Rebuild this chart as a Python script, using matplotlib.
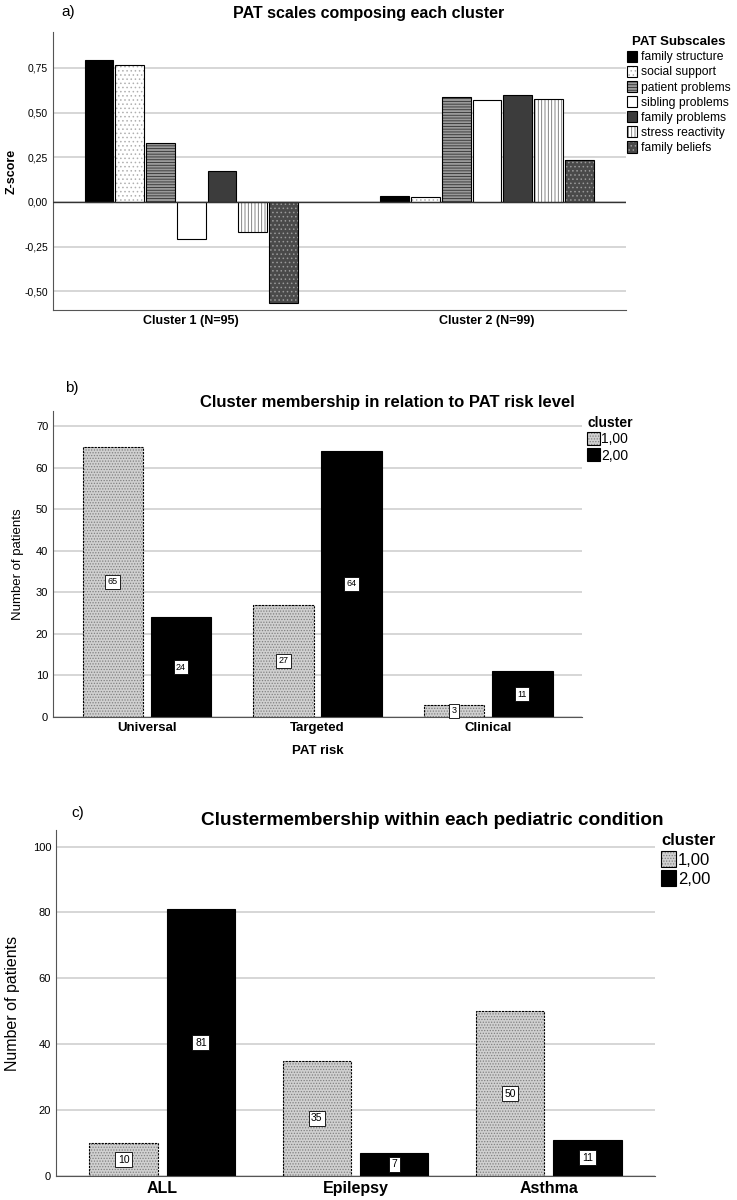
import matplotlib
matplotlib.use("Agg")
import matplotlib.pyplot as plt
import numpy as np
from matplotlib.patches import Patch

plt.rcParams['font.family'] = ['Liberation Sans', 'DejaVu Sans']
plt.rcParams['hatch.linewidth'] = 0.6

# panel a data
clusters_a = ["Cluster 1 (N=95)", "Cluster 2 (N=99)"]
subscales = ["family structure", "social support", "patient problems",
             "sibling problems", "family problems", "stress reactivity",
             "family beliefs"]
zscores_c1 = [0.795, 0.765, 0.33, -0.21, 0.175, -0.17, -0.565]
zscores_c2 = [0.035, 0.03, 0.59, 0.57, 0.60, 0.575, 0.235]
yticks_a = [-0.50, -0.25, 0.0, 0.25, 0.50, 0.75]
yticklabels_a = ["-0,50", "-0,25", "0,00", "0,25", "0,50", "0,75"]

# panel b data
risk_levels = ["Universal", "Targeted", "Clinical"]
risk_cluster1 = [65, 27, 3]
risk_cluster2 = [24, 64, 11]

# panel c data
conditions = ["ALL", "Epilepsy", "Asthma"]
cond_cluster1 = [10, 35, 50]
cond_cluster2 = [81, 7, 11]
cluster_names = ["1,00", "2,00"]

# (face, hatch, hatch colour) per subscale
sub_styles = [
    ("black", None, None),
    ("white", "....", "#b0b0b0"),
    ("#9a9a9a", "------", "#303030"),
    ("white", None, None),
    ("#3c3c3c", None, None),
    ("white", "|||||", "#707070"),
    ("#4a4a4a", "....", "#9a9a9a"),
]
clus_styles = [("#d0d0d0", "......", "#808080"), ("black", None, None)]


def draw_bar(ax, x, h, w, style, outline_ls="-"):
    face, hatch, hcol = style
    if hatch:
        ax.bar(x, h, w, color=face, hatch=hatch, edgecolor=hcol, linewidth=0, zorder=2)
        ax.bar(x, h, w, fill=False, edgecolor="black", linewidth=0.8,
               linestyle=outline_ls, zorder=3)
    else:
        ax.bar(x, h, w, color=face, edgecolor="black", linewidth=0.8, zorder=2)


def legend_handle(style):
    face, hatch, hcol = style
    if hatch:
        return (Patch(facecolor=face, hatch=hatch, edgecolor=hcol, linewidth=0),
                Patch(fill=False, edgecolor="black", linewidth=0.8))
    return Patch(facecolor=face, edgecolor="black", linewidth=0.8)


def style_axes(ax):
    ax.spines['top'].set_visible(False)
    ax.spines['right'].set_visible(False)
    ax.spines['left'].set_color('#555555')
    ax.spines['bottom'].set_color('#555555')
    ax.yaxis.grid(True, color='#cfcfcf', linewidth=1.2, zorder=0)
    ax.set_axisbelow(True)
    ax.tick_params(length=0)


def value_box(ax, x, h, size):
    ax.text(x, h / 2, str(h), ha='center', va='center', fontsize=size, zorder=5,
            bbox=dict(boxstyle='square,pad=0.25', fc='white', ec='black', lw=0.6))


fig = plt.figure(figsize=(7.37, 12), dpi=100)

# ---- panel a ----
ax = fig.add_axes([0.072, 0.7417, 0.7775, 0.2317])
style_axes(ax)
step, bw = 0.104, 0.097
for g, vals in enumerate([zscores_c1, zscores_c2]):
    for i, v in enumerate(vals):
        draw_bar(ax, g + (i - 3) * step, v, bw, sub_styles[i])
ax.axhline(0, color='#333333', linewidth=1, zorder=4)
ax.set_xlim(-0.467, 1.47)
ax.set_ylim(-0.605, 0.952)
ax.set_yticks(yticks_a)
ax.set_yticklabels(yticklabels_a, fontsize=7.5)
ax.set_xticks([0, 1])
ax.set_xticklabels(clusters_a, fontsize=9, fontweight='bold')
ax.set_ylabel("Z-score", fontsize=9, fontweight='bold')
ax.yaxis.set_label_coords(-0.062, 0.5)
fig.text(0.5, 0.9885, "PAT scales composing each cluster", ha='center', va='center',
         fontsize=11.5, fontweight='bold')
fig.text(0.093, 0.99, "a)", ha='center', va='center', fontsize=11)
leg = ax.legend([legend_handle(s) for s in sub_styles], subscales,
                loc='upper left', bbox_to_anchor=(1.002, 0.985), frameon=False,
                fontsize=8.7, title="PAT Subscales", handlelength=0.85, handleheight=1.05,
                handletextpad=0.3, labelspacing=0.2, borderaxespad=0, borderpad=0)
leg.get_title().set_fontweight('bold')
leg.get_title().set_fontsize(9.5)


def grouped_panel(rect, cats, v1, v2, ylim, yticks, title, title_xy, title_size,
                  tag_xy, ylabel, ylab_size, xtick_size, box_size,
                  leg_anchor, leg_size, xlabel=None):
    ax = fig.add_axes(rect)
    style_axes(ax)
    x = np.arange(len(cats))
    w = 0.355
    for j, vals in enumerate([v1, v2]):
        for xi, v in zip(x, vals):
            xc = xi + (j - 0.5) * 0.4
            draw_bar(ax, xc, v, w, clus_styles[j], outline_ls=(0, (2, 1)))
            value_box(ax, xc, v, box_size)
    ax.set_xlim(-0.55, 2.55)
    ax.set_ylim(*ylim)
    ax.set_yticks(yticks)
    ax.set_yticklabels([str(t) for t in yticks], fontsize=8)
    ax.set_xticks(x)
    ax.set_xticklabels(cats, fontsize=xtick_size, fontweight='bold')
    ax.set_ylabel(ylabel, fontsize=ylab_size)
    if xlabel:
        ax.set_xlabel(xlabel, fontsize=9.5, fontweight='bold', labelpad=8)
    fig.text(title_xy[0], title_xy[1], title, ha='center', va='center',
             fontsize=title_size, fontweight='bold')
    fig.text(tag_xy[0], tag_xy[1], tag_xy[2], ha='center', va='center', fontsize=11)
    leg = ax.legend([legend_handle(s) for s in clus_styles], cluster_names,
                    loc='upper left', bbox_to_anchor=leg_anchor, frameon=False,
                    fontsize=leg_size, title="cluster", handlelength=0.9,
                    handleheight=1.1, handletextpad=0.1, labelspacing=0.15,
                    borderaxespad=0, borderpad=0, alignment='left')
    leg.get_title().set_fontweight('bold')
    leg.get_title().set_fontsize(leg_size)
    return ax


# ---- panel b ----
ax_b = grouped_panel([0.072, 0.4025, 0.7178, 0.255], risk_levels, risk_cluster1,
                     risk_cluster2, (0, 73.6), [0, 10, 20, 30, 40, 50, 60, 70],
                     "Cluster membership in relation to PAT risk level",
                     (0.525, 0.665), 12, (0.097, 0.677, "b)"), "Number of patients",
                     9.5, 9.5, 6.5, (1.01, 0.985), 10, xlabel="PAT risk")
ax_b.yaxis.set_label_coords(-0.055, 0.5)

# ---- panel c ----
ax_c = grouped_panel([0.076, 0.02, 0.8128, 0.2883], conditions, cond_cluster1,
                     cond_cluster2, (0, 105), [0, 20, 40, 60, 80, 100],
                     "Clustermembership within each pediatric condition",
                     (0.586, 0.3165), 13.7, (0.105, 0.3225, "c)"), "Number of patients",
                     11.5, 11.5, 7.5, (1.01, 0.99), 12)
ax_c.yaxis.set_label_coords(-0.06, 0.5)

fig.savefig("out.png", dpi=100)
